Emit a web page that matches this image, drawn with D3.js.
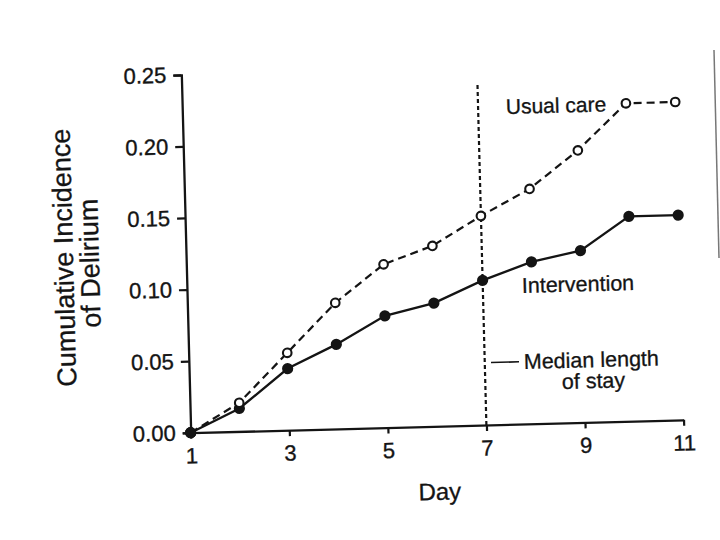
<!DOCTYPE html>
<html>
<head>
<meta charset="utf-8">
<script src="https://cdn.jsdelivr.net/npm/d3@7"></script>
<style>
  html, body { margin: 0; padding: 0; background: #fff; }
  svg { display: block; font-family: "Liberation Sans", Arial, Helvetica, sans-serif; }
</style>
</head>
<body>
<svg id="chart" width="720" height="540"></svg>
<script>
// ---- data ----
const days = [1, 2, 3, 4, 5, 6, 7, 8, 9, 10, 11];
const usualCare = [0, 0.020, 0.054, 0.088, 0.114, 0.126, 0.146, 0.164, 0.190, 0.222, 0.222];
const intervention = [0, 0.016, 0.043, 0.059, 0.078, 0.086, 0.101, 0.113, 0.120, 0.143, 0.143];
const xTicks = [1, 3, 5, 7, 9, 11];
const yTicks = [0, 0.05, 0.10, 0.15, 0.20, 0.25];
const medianStayDay = 7;
const medianLineTop = 0.239;

// ---- layout ----
const svg = d3.select("#chart");
const ox = 190.7, oy = 432.7, tilt = -1.5;
const x = d3.scaleLinear().domain([1, 11]).range([ox, ox + 493]);
const y = d3.scaleLinear().domain([0, 0.25]).range([oy, oy - 358]);
const ink = "#141414";

const g = svg.append("g").attr("transform", `rotate(${tilt},${ox},${oy})`);

// y axis
const yAxis = g.append("g").attr("transform", `translate(${ox},0)`)
  .call(d3.axisLeft(y).tickValues(yTicks).tickFormat(d3.format(".2f"))
    .tickSize(8).tickPadding(7));
// x axis
const xAxis = g.append("g").attr("transform", `translate(0,${oy})`)
  .call(d3.axisBottom(x).tickValues(xTicks).tickFormat(d3.format("d"))
    .tickSize(6).tickSizeOuter(0).tickPadding(9));
[yAxis, xAxis].forEach(a => {
  a.selectAll("path.domain").attr("stroke", ink).attr("stroke-width", 2.3);
  a.selectAll(".tick line").attr("stroke", ink).attr("stroke-width", 2.2);
  a.selectAll("text").attr("fill", ink).attr("font-size", 22)
    .attr("stroke", ink).attr("stroke-width", 0.35)
    .attr("font-family", "Liberation Sans, Arial, sans-serif");
});

// median length of stay line
g.append("line")
  .attr("x1", x(medianStayDay)).attr("x2", x(medianStayDay))
  .attr("y1", y(0)).attr("y2", y(medianLineTop))
  .attr("stroke", ink).attr("stroke-width", 2.2).attr("stroke-dasharray", "4,3");

const line = d3.line().x((d, i) => x(days[i])).y(d => y(d));

// usual care
g.append("path").datum(usualCare).attr("d", line)
  .attr("fill", "none").attr("stroke", ink).attr("stroke-width", 2.2)
  .attr("stroke-dasharray", "8,5");
// intervention
g.append("path").datum(intervention).attr("d", line)
  .attr("fill", "none").attr("stroke", ink).attr("stroke-width", 2.3);

g.selectAll("circle.ic").data(intervention).join("circle").attr("class", "ic")
  .attr("cx", (d, i) => x(days[i])).attr("cy", d => y(d)).attr("r", 5.6)
  .attr("fill", ink);
g.selectAll("circle.uc").data(usualCare).join("circle").attr("class", "uc")
  .attr("cx", (d, i) => x(days[i])).attr("cy", d => y(d)).attr("r", 4.3)
  .attr("fill", "#fff").attr("stroke", ink).attr("stroke-width", 2.1);
// origin point drawn filled on top
g.append("circle").attr("cx", x(days[0])).attr("cy", y(intervention[0])).attr("r", 5.6).attr("fill", ink);

// ---- text labels ----
function label(txt, tx, ty, size, rot, anchor) {
  svg.append("text").attr("transform", `translate(${tx},${ty}) rotate(${rot})`)
    .attr("text-anchor", anchor || "start").attr("font-size", size)
    .attr("fill", ink).attr("stroke", ink).attr("stroke-width", 0.3).text(txt);
}
label("Usual care", 506, 114, 21, tilt);
label("Intervention", 522, 293, 21.5, tilt);
label("Median length", 524, 369, 21.5, tilt);
label("of stay", 562, 389, 21.5, tilt);
svg.append("line").attr("x1", 491).attr("y1", 362.5).attr("x2", 519).attr("y2", 361.8)
  .attr("stroke", ink).attr("stroke-width", 1.6);

label("Day", 440, 500, 24, tilt, "middle");
label("Cumulative Incidence", 73, 257.5, 27, -90 + tilt, "middle");
label("of Delirium", 99, 263, 27, -90 + tilt, "middle");

// scan edge artifact on the right
svg.append("line").attr("x1", 714).attr("y1", 50).attr("x2", 719).attr("y2", 258)
  .attr("stroke", "#777").attr("stroke-width", 1.5);
</script>
</body>
</html>
